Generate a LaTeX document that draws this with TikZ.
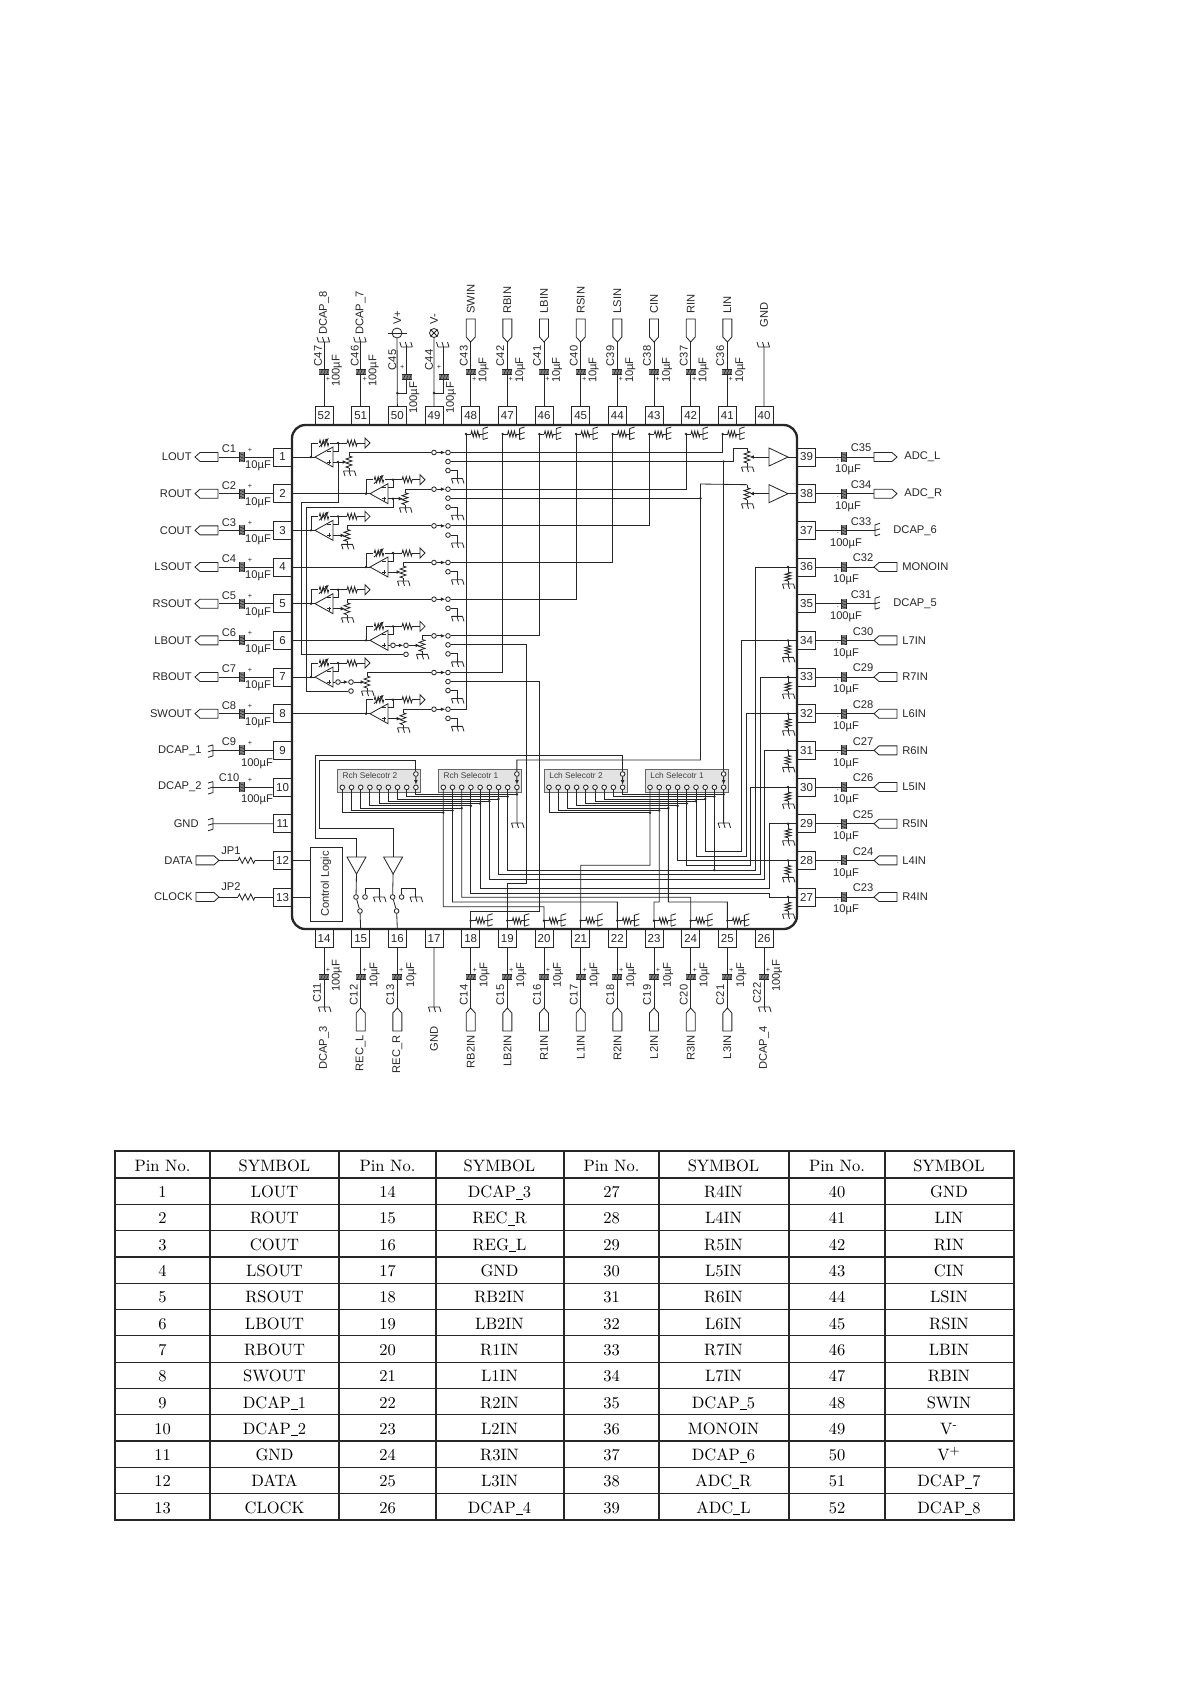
\documentclass[tikz,border=0pt]{standalone}
\usepackage{fontspec}
\newfontfamily\diagfont{Liberation Sans}
\usetikzlibrary{arrows.meta}
\newcommand{\tabbar}{\rule[-1.1pt]{4.2pt}{.45pt}}

\tikzset{
  lab/.style={font=\diagfont\fontsize{6.7}{8}\selectfont,inner sep=0pt},
  smalllab/.style={font=\diagfont\fontsize{4.4}{5}\selectfont,inner sep=0pt},
  seltext/.style={font=\diagfont\fontsize{5}{6}\selectfont,inner sep=0pt,black!75},
  tabtxt/.style={font=\fontsize{9.9}{12}\selectfont,inner sep=0pt,text=black},
  pinbox/.style={draw,minimum size=10.9pt,inner sep=0pt,font=\diagfont\fontsize{6.9}{8}\selectfont},
  term/.style={circle,draw,fill=white,inner sep=0pt,minimum size=2.8pt},
  selbox/.style={draw=black!60,fill=black!11,minimum width=49.8pt,minimum height=13.8pt,inner sep=0pt},
  gndsym/.pic={\draw (0,-5.5) -- (0,5.5) (0,-5.5) -- (5,-7) (0,0) -- (5,-1.5) (0,5.5) -- (5,4);},
  capsym/.pic={
    \fill[black!50] (-2.5,-5) rectangle (2.5,5);
    \draw[line width=.7pt] (-2.5,-5) -- (-2.5,5) (2.5,-5) -- (2.5,5);
    \draw[line width=.35pt] (-2.5,-3.5) -- (2.5,-1.5) (-2.5,-.5) -- (2.5,1.5) (-2.5,2.5) -- (2.5,4.5);},
  tagsym/.pic={\draw (0,0) -- (-5,-4.5) -- (-23,-4.5) -- (-23,4.5) -- (-5,4.5) -- cycle;},
  zigsym/.pic={\draw (0,0) -- (1,-3) -- (3,3) -- (5,-3) -- (7,3) -- (9,-3) -- (11,3) -- (12,0);},
  termres/.pic={
    \fill (0,0) circle (.8pt);
    \draw (0,0) -- (5,0) (14,0) -- (17,0);
    \pic[transform shape,xscale=.75] at (5,0) {zigsym};
    \pic[transform shape] at (17,0) {gndsym};},
  varres/.pic={
    \pic[transform shape,xscale=.8] at (-4.8,0) {zigsym};
    \draw[->] (-5,4) -- (5,-5);},
}

\begin{document}
\begin{tikzpicture}[x=0.6pt,y=-0.6pt,line width=.5pt,color=black!85,>={Latex[length=2.6pt,width=2.2pt]}]
    \useasboundingbox (0,0) rectangle (1191,1684);

    % Pin boxes
    \foreach \n in {1,...,13} {
        \pgfmathsetmacro\py{457+36.67*(\n-1)}
        \node[pinbox,anchor=east] (p\n) at (292,\py) {\n};
    }
    \foreach \n in {14,...,26} {
        \pgfmathsetmacro\px{324+36.67*(\n-14)}
        \node[pinbox,anchor=north] (p\n) at (\px,929) {\n};
    }
    \foreach \n in {27,...,39} {
        \pgfmathsetmacro\py{457+36.67*(39-\n)}
        \node[pinbox,anchor=west] (p\n) at (797,\py) {\n};
    }
    \foreach \n in {40,...,52} {
        \pgfmathsetmacro\px{324+36.67*(52-\n)}
        \node[pinbox,anchor=south] (p\n) at (\px,425) {\n};
    }

    % Left side outputs
    \foreach \n/\txt in {1/LOUT,2/ROUT,3/COUT,4/LSOUT,5/RSOUT,6/LBOUT,7/RBOUT,8/SWOUT} {
        \pgfmathsetmacro\py{457+36.67*(\n-1)}
        \coordinate (w\n) at (219,\py);
        \draw (p\n.west) -- (w\n);
        \pic[rotate=180] at (195,\py) {tagsym};
        \pic at (242,\py) {capsym};
        \node[lab,anchor=east] (n\n) at (192,\py) {\txt};
        \node[lab] (cl\n) at (229,\py-8) {C\n};
        \node[lab] (val\n) at (258,\py+9) {10µF};
        \node[smalllab] (plus\n) at (250,\py-7) {+};
    }
    \foreach \n/\txt in {9/DCAP\_1,10/DCAP\_2} {
        \pgfmathsetmacro\py{457+36.67*(\n-1)}
        \coordinate (w\n) at (213,\py);
        \draw (p\n.west) -- (w\n);
        \pic[rotate=180] at (w\n) {gndsym};
        \pic at (242,\py) {capsym};
        \node[lab,anchor=east] (n\n) at (202,\py) {\txt};
        \node[lab] (cl\n) at (229,\py-9) {C\n};
        \node[lab] (val\n) at (257,\py+13) {100µF};
        \node[smalllab] (plus\n) at (250,\py-7) {+};
    }
    \coordinate (w11) at (213,823.7);
    \draw (p11.west) -- (w11);
    \pic[rotate=180] at (w11) {gndsym};
    \node[lab,anchor=east] (n11) at (199,823.7) {GND};
    \foreach \n/\txt/\jp in {12/DATA/JP1,13/CLOCK/JP2} {
        \pgfmathsetmacro\py{457+36.67*(\n-1)}
        \coordinate (w\n) at (238,\py);
        \coordinate (x\n) at (255,\py);
        \pic at (219,\py) {tagsym};
        \draw (219,\py) -- (w\n) (x\n) -- (p\n.west);
        \pic[xscale=1.42] at (w\n) {zigsym};
        \node[lab,anchor=east] (n\n) at (193,\py) {\txt};
        \node[lab] (cl\n) at (231,\py-10) {\jp};
    }

    % Right side
    \foreach \n/\txt/\capn in {39/ADC\_L/C35,38/ADC\_R/C34} {
        \pgfmathsetmacro\py{457+36.67*(39-\n)}
        \coordinate (w\n) at (874,\py);
        \draw (p\n.east) -- (w\n);
        \pic at (897,\py) {tagsym};
        \pic at (844,\py) {capsym};
        \node[lab,anchor=west] (n\n) at (904,\py) {\txt};
        \node[lab] (cl\n) at (861,\py-9) {\capn};
        \node[lab] (val\n) at (848,\py+13) {10µF};
        \node[smalllab] (plus\n) at (838,\py+3) {.};
    }
    \foreach \n/\txt/\capn in {37/DCAP\_6/C33,35/DCAP\_5/C31} {
        \pgfmathsetmacro\py{457+36.67*(39-\n)}
        \coordinate (w\n) at (875,\py);
        \draw (p\n.east) -- (w\n);
        \pic at (w\n) {gndsym};
        \pic at (844,\py) {capsym};
        \node[lab,anchor=west] (n\n) at (893,\py) {\txt};
        \node[lab] (cl\n) at (861,\py-9) {\capn};
        \node[lab] (val\n) at (846,\py+13) {100µF};
        \node[smalllab] (plus\n) at (838,\py+3) {.};
    }
    \foreach \n/\txt/\capn in {36/MONOIN/C32,34/L7IN/C30,33/R7IN/C29,32/L6IN/C28,31/R6IN/C27,30/L5IN/C26,29/R5IN/C25,28/L4IN/C24,27/R4IN/C23} {
        \pgfmathsetmacro\py{457+36.67*(39-\n)}
        \coordinate (w\n) at (874,\py);
        \draw (p\n.east) -- (w\n);
        \pic[rotate=180] at (w\n) {tagsym};
        \pic at (844,\py) {capsym};
        \node[lab,anchor=west] (n\n) at (902,\py) {\txt};
        \node[lab] (cl\n) at (863,\py-9) {\capn};
        \node[lab] (val\n) at (846,\py+13) {10µF};
        \node[smalllab] (plus\n) at (838,\py+3) {.};
        \pic[rotate=-90] at (788,\py) {termres};
    }

    % Top side
    \foreach \n/\txt/\capn in {48/SWIN/C43,47/RBIN/C42,46/LBIN/C41,45/RSIN/C40,44/LSIN/C39,43/CIN/C38,42/RIN/C37,41/LIN/C36} {
        \pgfmathsetmacro\px{324+36.67*(52-\n)}
        \coordinate (w\n) at (\px,342);
        \draw (p\n.north) -- (w\n);
        \pic[rotate=-90] at (w\n) {tagsym};
        \pic[rotate=90] at (\px,372) {capsym};
        \node[lab,rotate=90,anchor=west] (n\n) at (\px,314) {\txt};
        \node[lab,rotate=90] (cl\n) at (\px-7,356) {\capn};
        \node[lab,rotate=90] (val\n) at (\px+13,370) {10µF};
        \node[smalllab] (plus\n) at (\px+3.5,379) {+};
        \coordinate (vt\n) at (\px-4.7,434);
        \pic at (vt\n) {termres};
    }
    \foreach \n/\txt/\capn in {52/DCAP\_8/C47,51/DCAP\_7/C46} {
        \pgfmathsetmacro\px{324+36.67*(52-\n)}
        \coordinate (w\n) at (\px,342);
        \draw (p\n.north) -- (w\n);
        \pic[rotate=90] at (w\n) {gndsym};
        \pic[rotate=90] at (\px,372) {capsym};
        \node[lab,rotate=90,anchor=west] (n\n) at (\px,335) {\txt};
        \node[lab,rotate=90] (cl\n) at (\px-6,356) {\capn};
        \node[lab,rotate=90] (val\n) at (\px+13,371) {100µF};
        \node[smalllab] (plus\n) at (\px+4,379) {+};
    }
    \coordinate (w40) at (764,347);
    \draw (p40.north) -- (w40);
    \pic[rotate=90] at (w40) {gndsym};
    \node[lab,rotate=90,anchor=west] (n40) at (764,328) {GND};

    % Supply pins
    \node[circle,draw,minimum size=6pt,inner sep=0pt] (vp) at (397,333) {};
    \node[circle,draw,minimum size=5.4pt,inner sep=0pt] (vm) at (434,333) {};
    \coordinate (vpl) at (388,333);
    \coordinate (vpr) at (407,333);
    \draw (vpl) -- (vpr);
    \draw (vm.45) -- (vm.225) (vm.135) -- (vm.315);
    \draw (p50.north) -- (vp);
    \draw (p49.north) -- (vm);
    \foreach \n/\nd/\txt/\capn in {50/vp/V+/C45,49/vm/V-/C44} {
        \pgfmathsetmacro\px{324+36.67*(52-\n)}
        \coordinate (d\n) at (\px,393);
        \coordinate (e\n) at (\px+9.5,393);
        \coordinate (g\n) at (\px+9.5,347);
        \fill (d\n) circle (.8pt);
        \draw (d\n) -- (e\n) -- (g\n);
        \pic[rotate=90] at (g\n) {gndsym};
        \pic[rotate=90] at (\px+9.5,377) {capsym};
        \node[lab,rotate=90,anchor=west] (n\n) at (\px,325) {\txt};
        \node[lab,rotate=90] (cl\n) at (\px-5,360) {\capn};
        \node[lab,rotate=90] (val\n) at (\px+17,398) {100µF};
        \node[smalllab] (plus\n) at (\px+5,367) {+};
    }

    % Bottom side
    \foreach \n/\txt/\capn in {15/REC\_L/C12,16/REC\_R/C13,18/RB2IN/C14,19/LB2IN/C15,20/R1IN/C16,21/L1IN/C17,22/R2IN/C18,23/L2IN/C19,24/R3IN/C20,25/L3IN/C21} {
        \pgfmathsetmacro\px{324+36.67*(\n-14)}
        \coordinate (w\n) at (\px,1008);
        \draw (p\n.south) -- (w\n);
        \pic[rotate=90] at (w\n) {tagsym};
        \pic[rotate=90] at (\px,977) {capsym};
        \node[lab,rotate=90,anchor=east] (n\n) at (\px,1035) {\txt};
        \node[lab,rotate=90] (cl\n) at (\px-7,995) {\capn};
        \node[lab,rotate=90] (val\n) at (\px+14,975) {10µF};
        \node[smalllab] (plus\n) at (\px+4,970) {+};
    }
    \foreach \n/\txt/\capn in {14/DCAP\_3/C11,26/DCAP\_4/C22} {
        \pgfmathsetmacro\px{324+36.67*(\n-14)}
        \coordinate (w\n) at (\px,1007);
        \draw (p\n.south) -- (w\n);
        \pic[rotate=-90] at (w\n) {gndsym};
        \pic[rotate=90] at (\px,977) {capsym};
        \node[lab,rotate=90,anchor=east] (n\n) at (\px,1026) {\txt};
        \node[lab,rotate=90] (cl\n) at (\px-7,993) {\capn};
        \node[lab,rotate=90] (val\n) at (\px+13,976) {100µF};
        \node[smalllab] (plus\n) at (\px+4,970) {+};
    }
    \coordinate (w17) at (434,1007);
    \draw (p17.south) -- (w17);
    \pic[rotate=-90] at (w17) {gndsym};
    \node[lab,rotate=90,anchor=east] (n17) at (434,1026) {GND};

    % Bottom input resistors
    \foreach \n in {18,...,25} {
        \pgfmathsetmacro\px{324+36.67*(\n-14)}
        \coordinate (b\n) at (\px,920.7);
        \draw (p\n.north) -- (b\n);
        \pic at (b\n) {termres};
    }

    % Amplifier rows
    \foreach \n/\pn/\dx/\pot/\mode in {1/41/0/349/1,2/42/55/405/1,3/43/0/347/0,4/44/55/403/0,5/45/0/347/0,6/46/55/422/2,7/47/0/367/2,8/48/55/403/0} {
        \pgfmathsetmacro\py{457+36.67*(\n-1)}
        \begin{scope}[shift={(\dx,\py)}]
            \coordinate (in\n) at (311,0);
            \draw (315,0) -- (333,-10) -- (333,10) -- cycle;
            \draw (in\n) -- (315,0);
            \fill (in\n) circle (.8pt);
            \draw (327,-6) -- (331,-6) (327,5) -- (331,5) (329,3) -- (329,7);
            % feedback
            \coordinate (fb\n) at (338,-14);
            \draw (in\n) |- (318,-14) (330,-14) -- (fb\n);
            \pic at (324,-14) {varres};
            \fill (fb\n) circle (.8pt);
            \draw (fb\n) |- (333,-6);
            \draw (fb\n) -- (347,-14);
            \pic[xscale=.85] at (347,-14) {zigsym};
            \draw (357,-14) -- (365,-14);
            \draw (365,-19) -- (370,-14) -- (365,-9) -- cycle;
        \end{scope}
        \draw (p\n.east) -- (in\n);
        % level control
        \coordinate (pt\n) at (\pot,\py-4.5);
        \draw (pt\n) -- (\pot,\py-1) (\pot,\py+11) -- (\pot,\py+14);
        \pic[rotate=-90] at (\pot,\py-1) {zigsym};
        \pic[rotate=-90] at (\pot,\py+14) {gndsym};
        \ifnum\mode=2
            \node[term] (sw\n) at (338+\dx,\py+5) {};
            \node[term] (sx\n) at (351+\dx,\py+5) {};
            \node[term] (sy\n) at (351+\dx,\py+14) {};
            \draw (333+\dx,\py+5) -- (sw\n);
            \draw[->] (sw\n) -- (sx\n);
            \draw[->] (sx\n) -- (\pot-2,\py+5);
        \else
            \draw[->] (333+\dx,\py+5) -- (\pot-2,\py+5);
        \fi
        \ifnum\mode=1
            \coordinate (pl\n) at (338+\dx,\py+5);
            \fill (pl\n) circle (.8pt);
        \fi
        % output switch
        \node[term] (sa\n) at (434,\py-4.5) {};
        \node[term] (so\n) at (448,\py-4.5) {};
        \draw (pt\n) -- (sa\n);
        \draw[->] (sa\n) -- (so\n);
        \draw (so\n) -| (vt\pn);
        \ifnum\mode=0
            \node[term] (sg\n) at (448,\py+4.7) {};
            \coordinate (gc\n) at (457,\py+12.7);
        \else
            \node[term] (sb\n) at (448,\py+4.5) {};
            \node[term] (sg\n) at (448,\py+13.5) {};
            \coordinate (gc\n) at (457,\py+21.5);
        \fi
        \draw (sg\n) -| (gc\n);
        \pic[rotate=-90] at (gc\n) {gndsym};
    }

    % Links between the rows
    \coordinate (l1b) at (301,502);
    \coordinate (l2b) at (306,507);
    \draw (pl1) |- (l1b) |- (sy6);
    \draw (pl2) |- (l2b) |- (sy7);

    % ADC buffers
    \foreach \n in {39,38} {
        \pgfmathsetmacro\py{457+36.67*(39-\n)}
        \draw (769,\py-9) -- (788,\py) -- (769,\py+9) -- cycle;
        \draw (p\n.west) -- (788,\py);
        \draw[->] (769,\py) -- (749.5,\py);
        \coordinate (pt\n) at (747,\py-9);
        \draw (pt\n) -- (747,\py-6) (747,\py+6) -- (747,\py+10);
        \pic[rotate=-90] at (747,\py-6) {zigsym};
        \pic[rotate=-90] at (747,\py+10) {gndsym};
    }

    % Selector blocks
    \foreach \sel/\xa/\txt in {rs2/342.3/Rch Selecotr 2,rs1/443.3/Rch Selecotr 1,ls2/549/Lch Selecotr 2,ls1/650/Lch Selecotr 1} {
        \node[selbox,anchor=north west] (\sel box) at (\xa-5.3,769) {};
        \node[seltext,anchor=west] (\sel txt) at (\xa,775.5) {\txt};
        \foreach \i in {1,...,9} {
            \pgfmathsetmacro\xp{\xa+9.2*(\i-1)}
            \node[term] (\sel\i) at (\xp,787.3) {};
        }
        \node[term] (\sel t) at (\xa+73.6,774) {};
        \draw[->] (\sel t) -- (\sel9);
    }

    % Bus between selector 2 and selector 1
    \foreach \i in {1,...,9} {
        \pgfmathsetmacro\yb{812.7-2.29*(\i-1)}
        \coordinate (rb\i) at (443.3+9.2*\i-9.2,\yb);
        \coordinate (lb\i) at (650+9.2*\i-9.2,\yb);
        \draw (rs2\i) |- (rb\i);
        \draw (ls2\i) |- (lb\i);
        \fill (rb\i) circle (.8pt);
        \fill (lb\i) circle (.8pt);
    }

    % Selector 1 to the input pins on the right
    \foreach \pn/\sp/\xx/\yy in {34/ls17/741.7/851.3,32/ls16/746/856,30/ls15/750.7/865.3,36/rs18/755/870,33/rs17/760/874.3,31/rs16/764.3/879,29/rs15/769.3/888.3} {
        \coordinate (c\pn) at (\xx,\yy);
        \draw (p\pn.west) -| (c\pn) -| (\sp);
    }
    \draw (p28.west) -| (ls14);
    \coordinate (c27) at (769.3,893);
    \draw (p27.west) -| (c27) -| (rs14);
    \coordinate (j36) at (ls18 |- c36);
    \draw (ls18) -- (j36);
    \fill (j36) circle (.8pt);

    % Selector 1 to the input pins at the bottom
    \foreach \sp/\pn/\xx/\yy in {rs11/20/544/906.7,rs12/22/617.4/902,rs13/24/690.7/897.3,ls11/21/580.7/865.3,ls12/23/654/902,ls13/25/727.4/902} {
        \coordinate (k\pn) at (\xx,\yy);
        \draw (\sp) |- (k\pn) -- (b\pn);
    }

    % Selector grounds
    \foreach \sel/\xx in {rs1/517,ls1/723.6} {
        \coordinate (g\sel) at (\xx,823);
        \draw (\sel9) -- (g\sel);
        \pic[rotate=-90] at (g\sel) {gndsym};
    }

    % Remaining signal lines
    \coordinate (aL) at (ls1t |- sb1);
    \coordinate (aL2) at (733,448);
    \draw (ls1t) -- (aL);
    \draw (sb1) -- (aL) -| (aL2) -- (pt39);
    \fill (aL) circle (.8pt);
    \coordinate (ca) at (700.5,760);
    \coordinate (cb) at (700.5,484);
    \draw (rs1t) |- (ca) -- (cb) -- (pt38);
    \coordinate (aR) at (ca |- sb2);
    \draw (sb2) -- (aR);
    \fill (aR) circle (.8pt);
    \coordinate (m6a) at (526,883.7);
    \draw (sb6) -| (m6a) -| (b19);
    \coordinate (m7a) at (539,911);
    \draw (sb7) -| (m7a) -| (b18);

    % Record outputs
    \coordinate (bufa) at (356.5,857);
    \coordinate (bufb) at (393,857);
    \coordinate (aa) at (315,755);
    \coordinate (ab) at (315,838);
    \coordinate (ba) at (319,760);
    \coordinate (bb) at (319,828);
    \draw (ls2t) |- (aa) -- (ab) -| (bufa);
    \draw (rs2t) |- (ba) -- (bb) -| (bufb);
    \foreach \j/\dx/\pn in {a/0/15,b/36.6/16} {
        \coordinate (apx\j) at (356.5+\dx,874);
        \draw (bufa)+(\dx,0) +(-9.5+\dx,0) -- +(9.5+\dx,0) -- +(\dx,17) -- cycle;
        \node[term] (ta\j) at (356+\dx,897) {};
        \node[term] (tb\j) at (365+\dx,897) {};
        \node[term] (tc\j) at (360+\dx,911) {};
        \draw (apx\j) -- (ta\j);
        \draw (ta\j) -- (tc\j);
        \draw (tc\j) -- (p\pn.north);
        \coordinate (tg\j) at (379+\dx,888);
        \coordinate (gg\j) at (379+\dx,897);
        \draw (tb\j) |- (tg\j) -- (gg\j);
        \pic[rotate=-90] at (gg\j) {gndsym};
    }

    % Control logic
    \node[draw,rotate=90,minimum width=44.4pt,minimum height=19.2pt,inner sep=0pt,
          font=\diagfont\fontsize{6.7}{8}\selectfont] (ctrl) at (326,884) {Control Logic};
    \draw (p12.east) -- (ctrl.north |- p12.east);
    \draw (p13.east) -- (ctrl.north |- p13.east);

    % Chip outline
    \draw[line width=1.4pt,rounded corners=8pt] (292,425) rectangle (797,929);

    % Pin table
    \draw[line width=1.5pt] (115,1151) rectangle (1014,1520);
    \draw[line width=1.4pt] (115,1178) -- (1014,1178);
    \foreach \i in {1,...,12} {
        \pgfmathsetmacro\yl{1178+26.3*\i}
        \draw[line width=.7pt] (115,\yl) -- (1014,\yl);
    }
    \foreach \xl in {210,436,659,885} {
        \draw[line width=.7pt] (\xl,1151) -- (\xl,1520);
    }
    \foreach \xl in {339,564,789} {
        \draw[line width=1.2pt] (\xl,1151) -- (\xl,1520);
    }
    \foreach \c/\xc in {0/162.5,1/387.5,2/611.5,3/837} {
        \node[tabtxt,anchor=base] (hno\c) at (\xc,1171) {Pin No.};
        \node[tabtxt,anchor=base] (hsym\c) at (\xc+112,1171) {SYMBOL};
    }
    \foreach \n/\sym in {1/LOUT,2/ROUT,3/COUT,4/LSOUT,5/RSOUT,6/LBOUT,7/RBOUT,8/SWOUT,9/DCAP\tabbar 1,10/DCAP\tabbar 2,11/GND,12/DATA,13/CLOCK,
        14/DCAP\tabbar 3,15/REC\tabbar R,16/REG\tabbar L,17/GND,18/RB2IN,19/LB2IN,20/R1IN,21/L1IN,22/R2IN,23/L2IN,24/R3IN,25/L3IN,26/DCAP\tabbar 4,
        27/R4IN,28/L4IN,29/R5IN,30/L5IN,31/R6IN,32/L6IN,33/R7IN,34/L7IN,35/DCAP\tabbar 5,36/MONOIN,37/DCAP\tabbar 6,38/ADC\tabbar R,39/ADC\tabbar L,
        40/GND,41/LIN,42/RIN,43/CIN,44/LSIN,45/RSIN,46/LBIN,47/RBIN,48/SWIN,49/V\textsuperscript{-},50/V\textsuperscript{+},51/DCAP\tabbar 7,52/DCAP\tabbar 8} {
        \pgfmathtruncatemacro\col{(\n-1)/13}
        \pgfmathtruncatemacro\row{mod(\n-1,13)}
        \pgfmathsetmacro\xc{{162.5,387.5,611.5,837}[\col]}
        \pgfmathsetmacro\yc{1197.6+26.3*\row}
        \node[tabtxt,anchor=base] (no\n) at (\xc,\yc) {\n};
        \node[tabtxt,anchor=base] (sym\n) at (\xc+112,\yc) {\sym};
    }
\end{tikzpicture}
\end{document}
